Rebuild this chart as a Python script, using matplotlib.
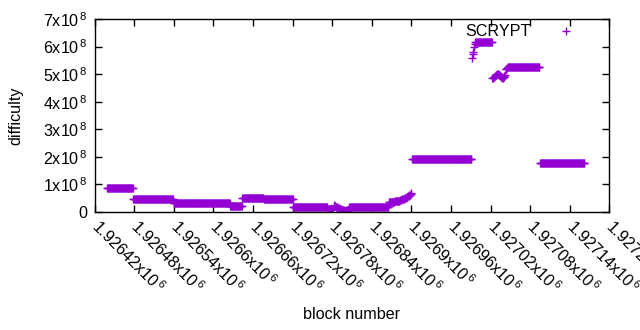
import numpy as np
import matplotlib
matplotlib.use("Agg")
import matplotlib.pyplot as plt

plt.rcParams['font.family'] = ['Liberation Sans', 'DejaVu Sans']
plt.rcParams['mathtext.fontset'] = 'custom'
plt.rcParams['mathtext.rm'] = 'Liberation Sans'
plt.rcParams['mathtext.it'] = 'Liberation Sans'
plt.rcParams['mathtext.bf'] = 'Liberation Sans'

# ---- data ----
# flat difficulty levels: first block, last block, difficulty
seg_start = [1926439, 1926479, 1926540, 1926626, 1926644, 1926677, 1926721,
             1926773, 1926806, 1926901, 1926997, 1927046, 1927095]
seg_end = [1926478, 1926539, 1926625, 1926643, 1926676, 1926720, 1926772,
           1926782, 1926865, 1926991, 1927022, 1927094, 1927162]
seg_value = [0.85e8, 0.457e8, 0.31e8, 0.225e8, 0.49e8, 0.457e8, 0.167e8,
             0.11e8, 0.167e8, 1.906e8, 6.18e8, 5.26e8, 1.76e8]

# irregular stretches: one value per block
bump_start = 1926783
bump_values = [0.25e8, 0.22e8, 0.20e8, 0.18e8, 0.17e8, 0.16e8, 0.15e8, 0.14e8,
               0.12e8, 0.11e8, 0.10e8, 0.09e8, 0.08e8, 0.08e8, 0.07e8, 0.06e8,
               0.05e8, 0.05e8, 0.05e8, 0.05e8, 0.06e8, 0.06e8, 0.06e8]

rise_start = 1926866
rise_values = [0.35e8, 0.35e8, 0.36e8, 0.36e8, 0.36e8, 0.37e8, 0.37e8, 0.37e8,
               0.37e8, 0.38e8, 0.38e8, 0.38e8, 0.39e8, 0.39e8, 0.40e8, 0.40e8,
               0.41e8, 0.42e8, 0.43e8, 0.44e8, 0.45e8, 0.46e8, 0.47e8, 0.48e8,
               0.49e8, 0.50e8, 0.51e8, 0.53e8, 0.55e8, 0.57e8, 0.59e8, 0.61e8,
               0.63e8, 0.65e8, 0.67e8]

jump_start = 1926992
jump_values = [5.60e8, 5.72e8, 5.82e8, 5.97e8, 6.08e8]

dip_start = 1927023
dip_values = [4.85e8, 4.86e8, 4.88e8, 4.90e8, 4.92e8, 4.95e8, 4.97e8, 5.00e8,
              5.02e8, 5.00e8, 4.97e8, 4.95e8, 4.92e8, 4.90e8, 4.88e8, 4.86e8,
              4.85e8, 4.88e8, 4.92e8, 4.98e8, 5.18e8, 5.20e8, 5.22e8]

x_ticks = [1926420 + 60 * i for i in range(14)]
x_tick_labels = ['1.92642', '1.92648', '1.92654', '1.9266', '1.92666', '1.92672',
                 '1.92678', '1.92684', '1.9269', '1.92696', '1.92702', '1.92708',
                 '1.92714', '1.9272']
y_ticks = [0, 1e8, 2e8, 3e8, 4e8, 5e8, 6e8, 7e8]
y_tick_labels = ['0', '1', '2', '3', '4', '5', '6', '7']

# ---- assemble points ----
bx, by = [], []
for s, e, v in zip(seg_start, seg_end, seg_value):
    for b in range(s, e + 1):
        bx.append(b)
        by.append(v)
for start, vals in [(bump_start, bump_values), (rise_start, rise_values),
                    (jump_start, jump_values), (dip_start, dip_values)]:
    for i, v in enumerate(vals):
        bx.append(start + i)
        by.append(v)

color = '#9400d3'
fs = 11.6
fig = plt.figure(figsize=(6.4, 3.3), dpi=100)
ax = fig.add_axes([94.5 / 640, 1 - 211.9 / 330, (609.3 - 94.5) / 640, (211.9 - 19) / 330])

ax.plot(bx, by, '+', color=color, ms=5.5, mew=1.0, linestyle='none', label='SCRYPT')

ax.set_xlim(1926420, 1927200)
ax.set_ylim(0, 7e8)

ax.set_xticks(x_ticks)
ax.set_xticklabels([r'%sx10$^{\,6}$' % t for t in x_tick_labels], rotation=-45,
                   ha='left', va='center', rotation_mode='anchor', fontsize=fs)
ax.set_yticks(y_ticks)
ax.set_yticklabels([('0' if t == '0' else r'%sx10$^{\,8}$' % t) for t in y_tick_labels],
                   fontsize=fs)

ax.tick_params(direction='in', length=5, width=1, top=True, right=True, pad=5)
ax.tick_params(axis='x', pad=8)
for sp in ax.spines.values():
    sp.set_linewidth(1)

ax.set_xlabel('block number', fontsize=fs, labelpad=8)
ax.set_ylabel('difficulty', fontsize=fs, labelpad=14)

ax.legend(loc='center right', bbox_to_anchor=(0.9606, 0.933), markerfirst=False,
          frameon=False, handletextpad=0.8, handlelength=2.8, borderpad=0,
          borderaxespad=0, fontsize=fs)

fig.savefig('out.png', dpi=100)
